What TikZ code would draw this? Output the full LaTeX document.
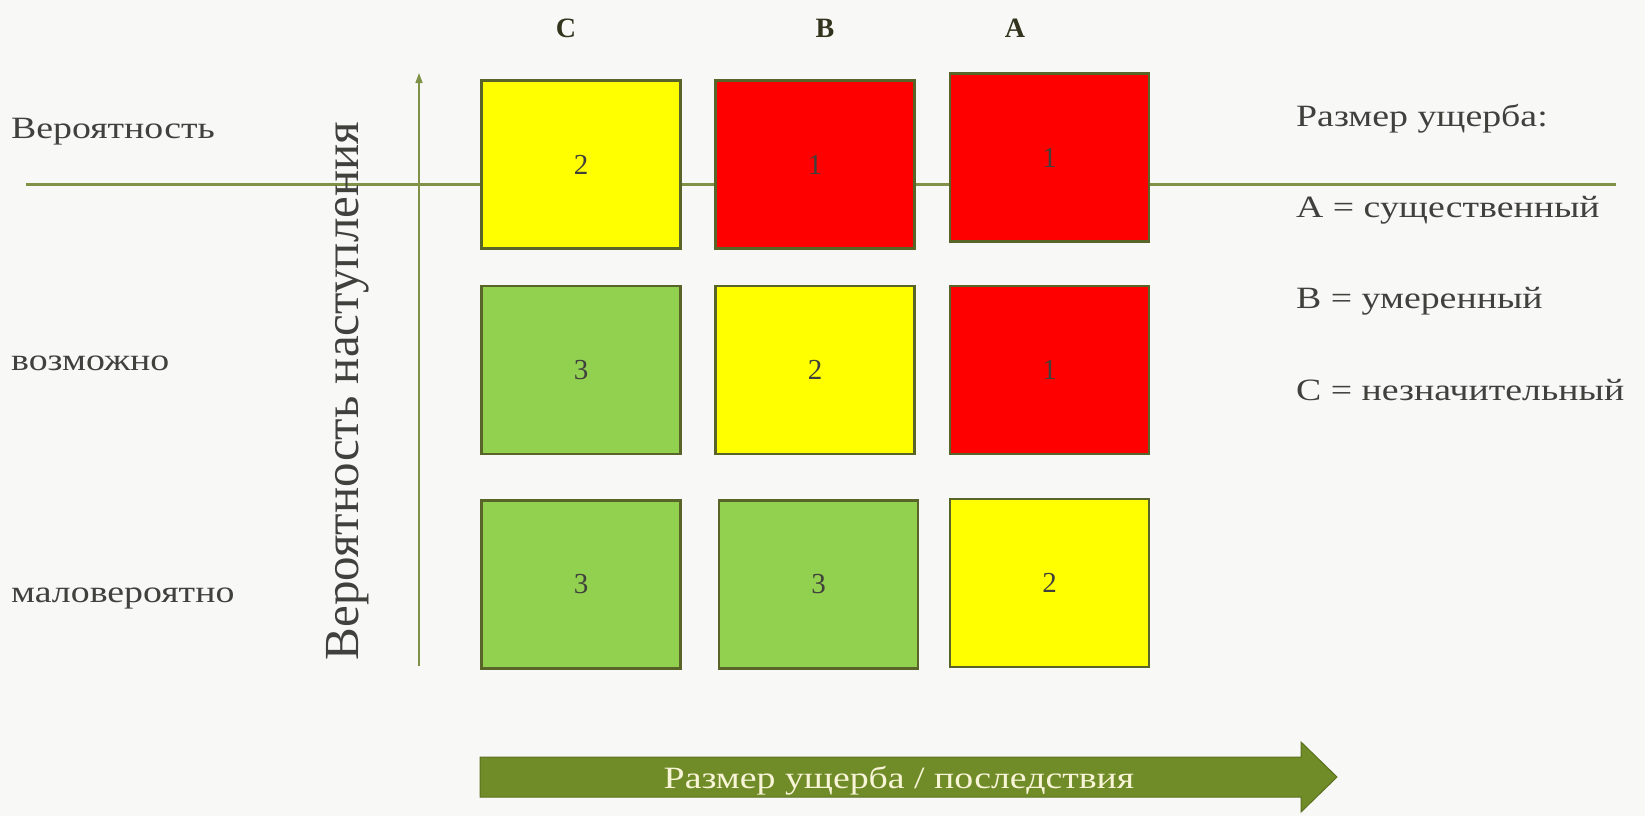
\documentclass[tikz,border=0pt]{standalone}
\usepackage{fontspec}
\setmainfont{Liberation Serif}
\newfontfamily\widefont[FakeStretch=1.22]{Liberation Serif}
\usetikzlibrary{arrows.meta}
\definecolor{bg}{RGB}{248,248,246}
\definecolor{olive}{RGB}{128,145,72}
\definecolor{edge}{RGB}{88,100,40}
\definecolor{cyel}{RGB}{255,255,0}
\definecolor{cred}{RGB}{255,0,0}
\definecolor{cgrn}{RGB}{146,208,80}
\definecolor{txt}{RGB}{64,64,60}
\definecolor{hdr}{RGB}{50,52,30}
\definecolor{arrowfill}{RGB}{112,140,40}
\definecolor{arrowedge}{RGB}{90,112,30}
\definecolor{arrowtext}{RGB}{248,244,215}
\begin{document}
\begin{tikzpicture}[x=1pt,y=-1pt,
  cell/.style={draw=edge,line width=2.8pt,minimum width=199pt,minimum height=168pt,inner sep=0pt,
    font=\fontsize{29}{29}\selectfont,text=txt},
  yel/.style={cell,fill=cyel},
  red/.style={cell,fill=cred},
  grn/.style={cell,fill=cgrn},
  rowlab/.style={anchor=west,inner sep=0pt,font=\widefont\fontsize{31}{31}\selectfont,text=txt},
  leg/.style={anchor=west,inner sep=0pt,font=\widefont\fontsize{31}{31}\selectfont,text=txt},
  colhdr/.style={inner sep=0pt,font=\fontsize{28}{28}\selectfont\bfseries,text=hdr},
  axisline/.style={draw=olive,line width=3pt},
]
\useasboundingbox (0,0) rectangle (1645,816);
\fill[bg] (0,0) rectangle (1645,816);

% horizontal line
\coordinate (hl) at (26,184);
\coordinate (hr) at (1616,184);
\draw[axisline] (hl) -- (hr);

% vertical arrow
\coordinate (vb) at (419,666);
\coordinate (vt) at (419,73);
\draw[draw=olive,line width=1.5pt,-{Triangle[length=10pt,width=7pt]}] (vb) -- (vt);

% column headers
\node[colhdr] (hC) at (566,28) {C};
\node[colhdr] (hB) at (825,28) {B};
\node[colhdr] (hA) at (1015,28) {A};

% cells
\node[yel] (c11) at (581,164.5) {2};
\node[red] (c12) at (815,164.5) {1};
\node[red] (c13) at (1049.5,157.5) {1};
\node[grn] (c21) at (581,370) {3};
\node[yel] (c22) at (815,370) {2};
\node[red] (c23) at (1049.5,370) {1};
\node[grn] (c31) at (581,584.5) {3};
\node[grn] (c32) at (818.5,584.5) {3};
\node[yel] (c33) at (1049.5,583) {2};

% row labels
\node[rowlab] (r1) at (11,132) {Вероятность};
\node[rowlab] (r2) at (11,363) {возможно};
\node[rowlab] (r3) at (11,598) {маловероятно};

% rotated axis label
\node[inner sep=0pt,rotate=90,font=\fontsize{49}{49}\selectfont,text=txt] (ylab) at (348,391) {Вероятность наступления};

% legend
\node[leg] (l0) at (1296,119) {Размер ущерба:};
\node[leg] (l1) at (1296,210) {A = существенный};
\node[leg] (l2) at (1296,301) {B = умеренный};
\node[leg] (l3) at (1296,390) {C = незначительный};

% bottom arrow
\fill[arrowfill,draw=arrowedge,line width=1pt] (480,757) -- (1301,757) -- (1301,742) -- (1337,777) -- (1301,812) -- (1301,797) -- (480,797) -- cycle;
\node[inner sep=0pt,font=\widefont\fontsize{31}{31}\selectfont,text=arrowtext] (xlab) at (899,781) {Размер ущерба / последствия};
\end{tikzpicture}
\end{document}
